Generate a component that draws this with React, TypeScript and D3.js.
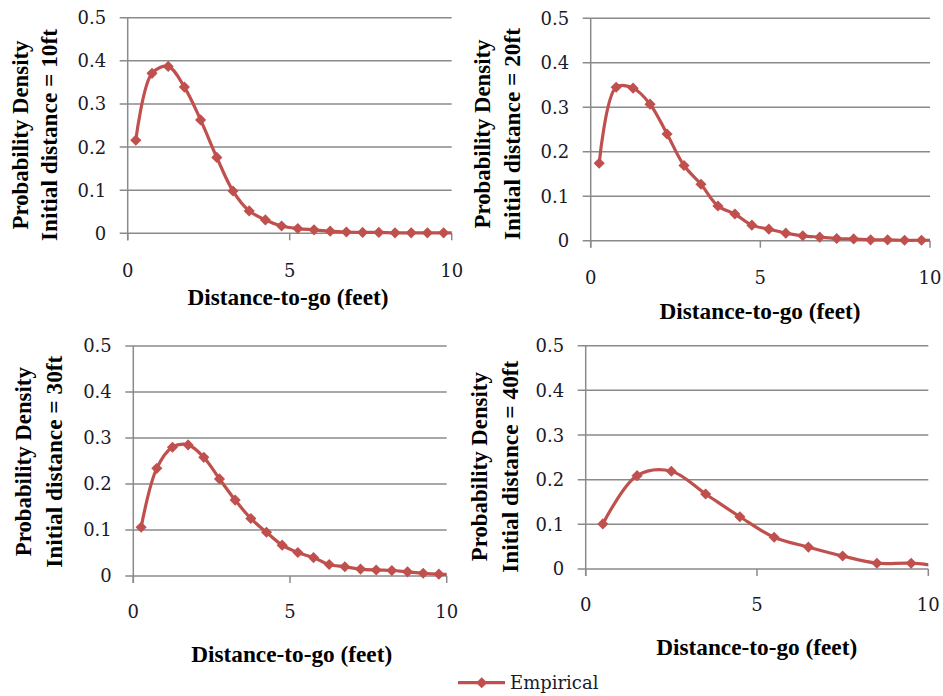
import React from 'react';
import * as d3 from 'd3';

// Bin centres (feet) for the 0.5 ft and 1 ft histograms
const X_HALF_FOOT = [0.25, 0.75, 1.25, 1.75, 2.25, 2.75, 3.25, 3.75, 4.25, 4.75, 5.25, 5.75, 6.25, 6.75, 7.25, 7.75, 8.25, 8.75, 9.25, 9.75, 10.25];
const X_ONE_FOOT = [0.5, 1.5, 2.5, 3.5, 4.5, 5.5, 6.5, 7.5, 8.5, 9.5, 10.5];

// Empirical probability density of distance-to-go, per initial distance
const DENSITY_10FT = [0.216, 0.371, 0.387, 0.339, 0.263, 0.176, 0.098, 0.052, 0.031, 0.017, 0.011, 0.008, 0.005, 0.003, 0.002, 0.002, 0.001, 0.001, 0.001, 0.001, 0.001];
const DENSITY_20FT = [0.174, 0.345, 0.343, 0.307, 0.240, 0.169, 0.127, 0.078, 0.060, 0.035, 0.026, 0.017, 0.011, 0.008, 0.005, 0.004, 0.002, 0.002, 0.001, 0.001, 0.001];
const DENSITY_30FT = [0.106, 0.234, 0.280, 0.285, 0.258, 0.211, 0.165, 0.125, 0.095, 0.067, 0.051, 0.040, 0.025, 0.020, 0.015, 0.013, 0.012, 0.009, 0.006, 0.004, 0.003];
const DENSITY_40FT = [0.101, 0.209, 0.219, 0.168, 0.117, 0.071, 0.049, 0.029, 0.013, 0.013, 0.005];

const Y_TICKS = [0, 0.1, 0.2, 0.3, 0.4, 0.5];
const X_TICKS = [0, 5, 10];
const PANEL_TITLES = ['Initial distance = 10ft', 'Initial distance = 20ft', 'Initial distance = 30ft', 'Initial distance = 40ft'];
const Y_TITLE = 'Probability Density';
const X_TITLE = 'Distance-to-go (feet)';
const SERIES_NAME = 'Empirical';

const SERIES = [
  { xs: X_HALF_FOOT, ys: DENSITY_10FT },
  { xs: X_HALF_FOOT, ys: DENSITY_20FT },
  { xs: X_HALF_FOOT, ys: DENSITY_30FT },
  { xs: X_ONE_FOOT, ys: DENSITY_40FT },
];

// Plot frame of each panel within the figure
const FRAMES = [
  { left: 127.7, right: 451.7, top: 17.7, bottom: 233.3, xTickBase: 276.7, xTitleX: 288, xTitleBase: 305, yt1: 28.3, yt2: 57.3, ytMid: 135 },
  { left: 590.7, right: 930, top: 18.3, bottom: 240.7, xTickBase: 284, xTitleX: 760, xTitleBase: 319, yt1: 490, yt2: 520, ytMid: 134 },
  { left: 133.3, right: 446.7, top: 346, bottom: 576, xTickBase: 618.3, xTitleX: 291.7, xTitleBase: 661.5, yt1: 30.5, yt2: 61.7, ytMid: 461.7 },
  { left: 585.7, right: 928.3, top: 345.7, bottom: 569, xTickBase: 611, xTitleX: 756.7, xTitleBase: 655, yt1: 487, yt2: 518, ytMid: 466.7 },
];

const RED = '#C0504D';
const GRID = '#8a8a8a';
const TICK_FONT = '"DejaVu Serif", serif';
const TITLE_FONT = '"Liberation Serif", "Times New Roman", serif';

const marker = d3.symbol(d3.symbolSquare, 62)();

function Panel({ idx }: { idx: number }) {
  const f = FRAMES[idx];
  const s = SERIES[idx];
  const x = d3.scaleLinear().domain([0, 10]).range([f.left, f.right]);
  const y = d3.scaleLinear().domain([0, 0.5]).range([f.bottom, f.top]);
  const pts: [number, number][] = s.xs.map((v, i) => [v, s.ys[i]]);
  const line = d3
    .line<[number, number]>()
    .x((d) => x(d[0]))
    .y((d) => y(d[1]))
    .curve(d3.curveCatmullRom.alpha(0.5));
  const clipId = `clip-${idx}`;
  return (
    <g>
      <defs>
        <clipPath id={clipId}>
          <rect x={f.left - 12} y={f.top - 12} width={f.right - f.left + 12} height={f.bottom - f.top + 24} />
        </clipPath>
      </defs>
      {Y_TICKS.map((t) => (
        <line key={`g${t}`} x1={x(0) - 8} x2={x(10)} y1={y(t)} y2={y(t)} stroke={GRID} strokeWidth={1.5} />
      ))}
      <line x1={x(0)} x2={x(0)} y1={y(0.5)} y2={y(0) + 7} stroke={GRID} strokeWidth={1.5} />
      {X_TICKS.map((t) => (
        <line key={`xt${t}`} x1={x(t)} x2={x(t)} y1={y(0)} y2={y(0) + 7} stroke={GRID} strokeWidth={1.5} />
      ))}
      {Y_TICKS.map((t) => (
        <text key={`yl${t}`} x={x(0) - 21.5} y={y(t)} dy="0.36em" textAnchor="end" fontFamily={TICK_FONT} fontSize={18} fill="#1a1a2a">
          {t === 0 ? '0' : t.toFixed(1)}
        </text>
      ))}
      {X_TICKS.map((t) => (
        <text key={`xl${t}`} x={x(t)} y={f.xTickBase} textAnchor="middle" fontFamily={TICK_FONT} fontSize={18} fill="#1a1a2a">
          {t}
        </text>
      ))}
      <g clipPath={`url(#${clipId})`}>
        <path d={line(pts) || ''} fill="none" stroke={RED} strokeWidth={3.2} />
        {pts.map((p, i) => (
          <path key={i} d={marker} transform={`translate(${x(p[0])},${y(p[1])}) rotate(45)`} fill={RED} />
        ))}
      </g>
      <text x={f.xTitleX} y={f.xTitleBase} textAnchor="middle" fontFamily={TITLE_FONT} fontWeight="bold" fontSize={23} textLength={201} lengthAdjust="spacingAndGlyphs" fill="#000">
        {X_TITLE}
      </text>
      <text transform={`translate(${f.yt1},${f.ytMid}) rotate(-90)`} textAnchor="middle" fontFamily={TITLE_FONT} fontWeight="bold" fontSize={23} textLength={189} lengthAdjust="spacingAndGlyphs" fill="#000">
        {Y_TITLE}
      </text>
      <text transform={`translate(${f.yt2},${f.ytMid}) rotate(-90)`} textAnchor="middle" fontFamily={TITLE_FONT} fontWeight="bold" fontSize={23} textLength={212} lengthAdjust="spacingAndGlyphs" fill="#000">
        {PANEL_TITLES[idx]}
      </text>
    </g>
  );
}

export default function App() {
  return (
    <svg width={943} height={696} style={{ position: 'absolute', left: 0, top: 0, background: '#fff' }}>
      <rect width={943} height={696} fill="#fff" />
      {FRAMES.map((_, i) => (
        <Panel key={i} idx={i} />
      ))}
      <g>
        <line x1={458} x2={505} y1={682.7} y2={682.7} stroke={RED} strokeWidth={3.2} />
        <path d={marker} transform="translate(481.7,682.7) rotate(45)" fill={RED} />
        <text x={510} y={689} fontFamily={TICK_FONT} fontSize={18} fill="#1a1a2a">
          {SERIES_NAME}
        </text>
      </g>
    </svg>
  );
}
